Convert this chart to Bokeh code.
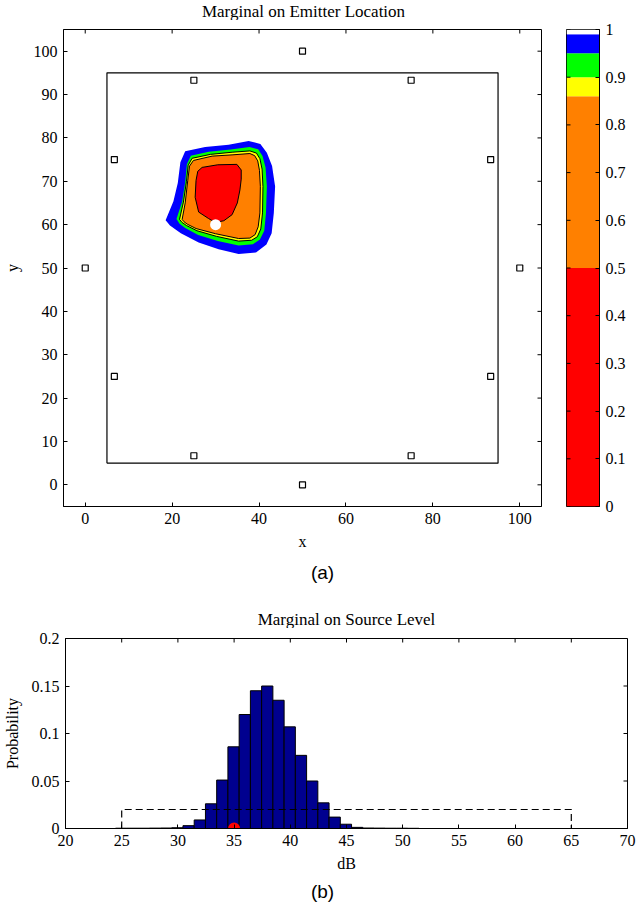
from bokeh.plotting import figure
from bokeh.layouts import column, row
from bokeh.models import FixedTicker, Range1d, Label
from bokeh.embed import file_html
from bokeh.resources import INLINE

# ---------------- emitter location marginal ----------------
sensor_x = [50, 75, 93.3, 100, 93.3, 75, 50, 25, 6.7, 0, 6.7, 25]
sensor_y = [100, 93.3, 75, 50, 25, 6.7, 0, 6.7, 25, 50, 75, 93.3]
region_x = [5, 95, 95, 5, 5]
region_y = [5, 5, 95, 95, 5]
true_x = [30]
true_y = [60]

# highest-density credible region boundaries, outermost first
level_99_x = [18.5, 20.3, 21.3, 21.9, 23.0, 27.6, 33.0, 37.6, 40.3, 41.8, 43.0, 43.7, 43.4, 42.9, 41.7, 39.3, 35.3, 30.7, 26.1, 22.0, 19.5]
level_99_y = [61.0, 65.4, 69.6, 74.4, 76.9, 77.9, 78.4, 79.3, 78.6, 76.6, 73.5, 68.8, 62.7, 58.0, 55.4, 53.6, 53.2, 54.3, 55.9, 58.0, 59.8]
level_95_x = [21.0, 22.3, 23.0, 23.4, 24.3, 28.4, 33.5, 37.8, 39.8, 40.8, 41.5, 41.8, 41.6, 41.2, 40.2, 38.6, 35.3, 30.5, 26.0, 23.0, 21.7]
level_95_y = [61.3, 65.3, 69.8, 73.9, 75.9, 76.8, 77.3, 77.9, 77.4, 75.8, 73.2, 68.8, 62.7, 58.6, 56.6, 55.5, 55.2, 56.2, 57.6, 59.2, 60.2]
level_90_x = [21.7, 22.6, 23.3, 23.7, 24.6, 28.8, 33.8, 37.9, 39.4, 40.2, 40.7, 40.9, 40.8, 40.4, 39.6, 38.3, 35.3, 30.2, 25.7, 23.3, 22.3]
level_90_y = [61.2, 65.2, 70.0, 73.7, 75.3, 76.2, 76.7, 77.0, 76.5, 75.2, 72.8, 68.8, 62.7, 59.0, 57.2, 56.4, 56.2, 57.3, 58.6, 59.8, 60.5]
level_86_x = [22.3, 23.0, 23.6, 24.0, 24.9, 29.2, 34.0, 37.9, 39.0, 39.7, 40.1, 40.3, 40.2, 39.8, 39.1, 37.9, 35.3, 30.0, 25.5, 23.5, 22.7]
level_86_y = [61.2, 65.0, 70.2, 73.5, 74.8, 75.8, 76.1, 76.4, 75.9, 74.7, 72.5, 68.8, 62.7, 59.5, 57.7, 56.9, 56.8, 57.9, 59.1, 60.1, 60.7]
level_50_x = [26.9, 30.5, 34.9, 35.9, 35.9, 35.6, 35.0, 33.8, 31.9, 29.9, 28.4, 26.1, 25.3, 25.5, 25.9]
level_50_y = [73.2, 73.8, 73.9, 72.6, 70.5, 68.0, 65.0, 62.3, 60.9, 60.5, 61.4, 62.9, 66.3, 70.2, 72.3]

# colour scale
cb_levels = [0, 0.5, 0.86, 0.9, 0.95, 0.99, 1.0]
cb_colors = ["#FF0000", "#FF8000", "#FFFF00", "#00FF00", "#0000FF", "#FFFFFF"]
cb_ticks = [0, 0.1, 0.2, 0.3, 0.4, 0.5, 0.6, 0.7, 0.8, 0.9, 1.0]
cb_labels = ["0", "0.1", "0.2", "0.3", "0.4", "0.5", "0.6", "0.7", "0.8", "0.9", "1"]

xy_ticks_x = [0, 20, 40, 60, 80, 100]
xy_ticks_y = [0, 10, 20, 30, 40, 50, 60, 70, 80, 90, 100]

# ---------------- source level marginal ----------------
bin_left = [24.45, 25.45, 26.45, 27.45, 28.45, 29.45, 30.45, 31.45, 32.45, 33.45,
            34.45, 35.45, 36.45, 37.45, 38.45, 39.45, 40.45, 41.45, 42.45, 43.45,
            44.45, 45.45, 46.45, 47.45, 48.45, 49.45, 50.45]
bin_prob = [0.0003, 0.0003, 0.0003, 0.0004, 0.0005, 0.0008, 0.003, 0.009, 0.026, 0.051,
            0.086, 0.120, 0.145, 0.150, 0.135, 0.107, 0.077, 0.050, 0.027, 0.012,
            0.0045, 0.0012, 0.0005, 0.0004, 0.0003, 0.0003, 0.0002]
bin_width = 1.0
prior_x = [25, 25, 65, 65]
prior_y = [0, 0.02, 0.02, 0]
true_level = [35]
true_level_y = [0]
sl_ticks_x = [20, 25, 30, 35, 40, 45, 50, 55, 60, 65, 70]
sl_ticks_y = [0, 0.05, 0.1, 0.15, 0.2]
sl_labels_y = ["0", "0.05", "0.1", "0.15", "0.2"]

SERIF = "Liberation Serif"
SANS = "Liberation Sans"
TICK_PX = 4
PAGE_W = 640

# frame geometry (pixels)
FW1, FH1, L1 = 478, 477, 62
FWC, FHC = 33, 477
FW2, FH2, L2 = 562, 190, 63


def style_axis(ax, ticks, labels=None):
    ax.ticker = FixedTicker(ticks=ticks)
    ax.axis_line_color = "black"
    ax.major_tick_line_color = "black"
    ax.major_tick_in = TICK_PX
    ax.major_tick_out = 0
    ax.minor_tick_line_color = None
    ax.major_label_text_font = SERIF
    ax.major_label_text_font_size = "16px"
    ax.major_label_text_color = "black"
    ax.major_label_standoff = 6
    ax.axis_label_text_font = SERIF
    ax.axis_label_text_font_size = "16px"
    ax.axis_label_text_font_style = "normal"
    ax.axis_label_text_color = "black"
    if labels is not None:
        ax.major_label_overrides = dict(zip(ticks, labels))


def mirror_ticks(p, xt, yt, xr, yr, fw, fh, left=False):
    # inward tick marks on the opposite frame edges
    if xt:
        dy = TICK_PX * (yr.end - yr.start) / fh
        p.segment(x0=xt, x1=xt, y0=[yr.end] * len(xt), y1=[yr.end - dy] * len(xt),
                  line_color="black", line_width=1)
    if yt:
        dx = TICK_PX * (xr.end - xr.start) / fw
        edge, step = (xr.start, dx) if left else (xr.end, -dx)
        p.segment(x0=[edge] * len(yt), x1=[edge + step] * len(yt), y0=yt, y1=yt,
                  line_color="black", line_width=1)


def plain(p):
    p.xgrid.grid_line_color = None
    p.ygrid.grid_line_color = None
    p.outline_line_color = "black"
    p.background_fill_color = "white"
    p.border_fill_color = "white"


def text_strip(h, items):
    # full-width strip for titles / captions; its frame matches panel (b)'s frame,
    # and its x range is in page pixels; y is measured from the strip top
    c = figure(frame_width=FW2, frame_height=h,
               x_range=Range1d(L2, L2 + FW2), y_range=Range1d(0, h),
               min_border_left=L2, min_border_right=PAGE_W - L2 - FW2,
               min_border_top=0, min_border_bottom=0,
               output_backend="svg", toolbar_location=None,
               x_axis_location=None, y_axis_location=None)
    c.outline_line_color = None
    c.xgrid.grid_line_color = None
    c.ygrid.grid_line_color = None
    for text, x, y, font, size in items:
        c.add_layout(Label(x=x, y=h - y, text=text, text_align="center",
                           text_baseline="middle", text_font=font,
                           text_font_size=size, text_color="black"))
    return c


# ---- panel (a): location map ----
xr1, yr1 = Range1d(-5, 105), Range1d(-5, 105)
head = text_strip(20, [("Marginal on Emitter Location", L1 + FW1 / 2, 11, SERIF, "17px")])

p1 = figure(x_range=xr1, y_range=yr1,
            frame_width=FW1, frame_height=FH1,
            min_border_left=L1, min_border_right=10, min_border_top=9, min_border_bottom=50,
            output_backend="svg", toolbar_location=None)
plain(p1)
ax_b, ax_l = p1.below[0], p1.left[0]
style_axis(ax_b, xy_ticks_x)
style_axis(ax_l, xy_ticks_y)
ax_b.axis_label = "x"
ax_l.axis_label = "y"
ax_b.axis_label_standoff = 6
ax_l.axis_label_standoff = 10

regions = [
    (level_99_x, level_99_y, cb_colors[4], None),
    (level_95_x, level_95_y, cb_colors[3], None),
    (level_90_x, level_90_y, cb_colors[2], "black"),
    (level_86_x, level_86_y, cb_colors[1], "black"),
    (level_50_x, level_50_y, cb_colors[0], "black"),
]
for xs, ys, fc, lc in regions:
    p1.patch(xs, ys, fill_color=fc, line_color=lc, line_width=1)

p1.line(region_x, region_y, line_color="black", line_width=1.2)
p1.scatter(sensor_x, sensor_y, marker="square", size=6, fill_color=None,
           line_color="black", line_width=1.2)
p1.scatter(true_x, true_y, marker="circle", size=11, fill_color="white", line_color=None)
mirror_ticks(p1, xy_ticks_x, xy_ticks_y, xr1, yr1, FW1, FH1)

# ---- colour bar ----
xrc, yrc = Range1d(0, 1), Range1d(0, 1)
cb = figure(x_range=xrc, y_range=yrc,
            frame_width=FWC, frame_height=FHC,
            min_border_left=15, min_border_right=42, min_border_top=9, min_border_bottom=50,
            output_backend="svg", toolbar_location=None,
            x_axis_location=None, y_axis_location="right")
plain(cb)
cb.quad(left=[0] * len(cb_colors), right=[1] * len(cb_colors),
        bottom=cb_levels[:-1], top=cb_levels[1:], fill_color=cb_colors, line_color=None)
style_axis(cb.right[0], cb_ticks, cb_labels)
mirror_ticks(cb, None, cb_ticks, xrc, yrc, FWC, FHC, left=True)

# ---- panel (b): source level histogram ----
xr2, yr2 = Range1d(20, 70), Range1d(0, 0.2)
mid = text_strip(72, [("(a)", 320, 16, SANS, "19px"),
                      ("Marginal on Source Level", L2 + FW2 / 2, 63, SERIF, "17px")])

p2 = figure(x_range=xr2, y_range=yr2,
            frame_width=FW2, frame_height=FH2,
            min_border_left=L2, min_border_right=15, min_border_top=10, min_border_bottom=48,
            output_backend="svg", toolbar_location=None)
plain(p2)
bx_b, bx_l = p2.below[0], p2.left[0]
style_axis(bx_b, sl_ticks_x)
style_axis(bx_l, sl_ticks_y, sl_labels_y)
bx_b.axis_label = "dB"
bx_l.axis_label = "Probability"
bx_b.axis_label_standoff = 6
bx_l.axis_label_standoff = 8

bin_right = [b + bin_width for b in bin_left]
p2.quad(left=bin_left, right=bin_right, bottom=0, top=bin_prob,
        fill_color="#00008F", line_color="black", line_width=1)
p2.line(prior_x, prior_y, line_color="black", line_width=1.2, line_dash="7 4")
p2.scatter(true_level, true_level_y, marker="circle", size=12,
           fill_color="#FF0000", line_color=None)
mirror_ticks(p2, sl_ticks_x, sl_ticks_y, xr2, yr2, FW2, FH2)

foot = text_strip(33, [("(b)", 320, 15, SANS, "19px")])

layout = column(head, row(p1, cb, spacing=0), mid, p2, foot, spacing=0)
open("out.html", "w").write(file_html(layout, INLINE))
